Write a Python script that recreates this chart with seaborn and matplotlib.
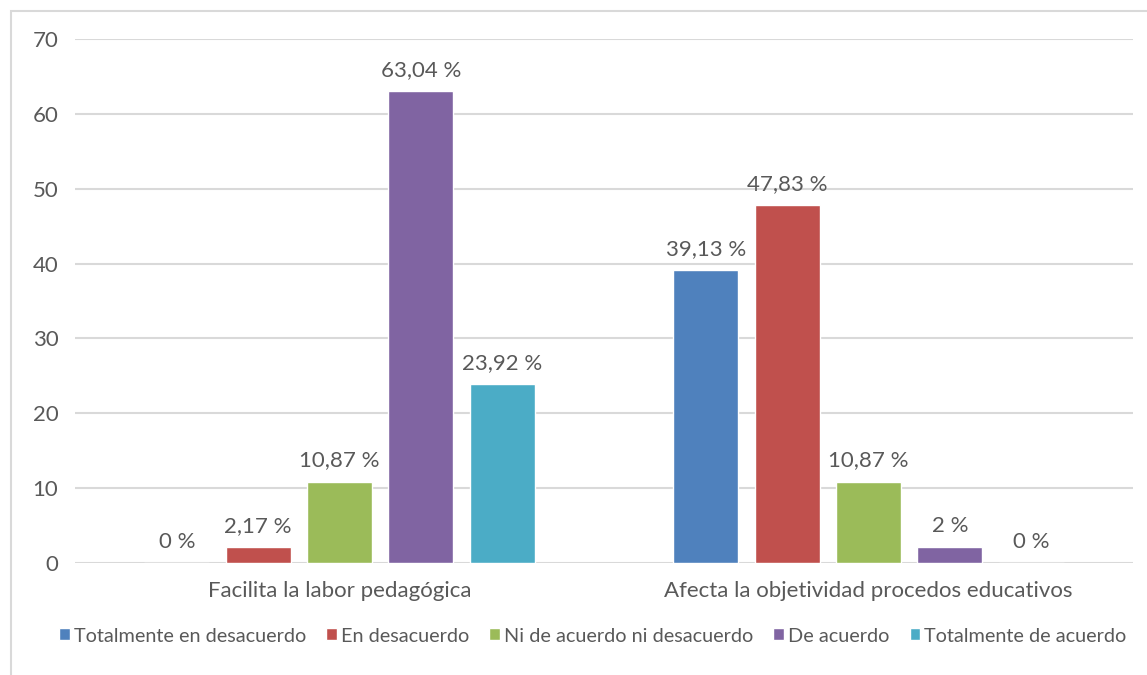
import matplotlib
matplotlib.use("Agg")
import matplotlib.pyplot as plt
import seaborn as sns
import pandas as pd
from matplotlib.patches import Rectangle

categories = ["Facilita la labor pedagógica", "Afecta la objetividad procedos educativos"]
series = ["Totalmente en desacuerdo", "En desacuerdo", "Ni de acuerdo ni desacuerdo",
          "De acuerdo", "Totalmente de acuerdo"]
values_facilita = [0, 2.17, 10.87, 63.04, 23.92]
values_afecta = [39.13, 47.83, 10.87, 2.17, 0]
labels_facilita = ["0 %", "2,17 %", "10,87 %", "63,04 %", "23,92 %"]
labels_afecta = ["39,13 %", "47,83 %", "10,87 %", "2 %", "0 %"]
colors = ["#4F81BD", "#C0504D", "#9BBB59", "#8064A2", "#4BACC6"]
yticks = [0, 10, 20, 30, 40, 50, 60, 70]

rows = []
for cat, vals, labs in [(categories[0], values_facilita, labels_facilita),
                        (categories[1], values_afecta, labels_afecta)]:
    for s, v, l in zip(series, vals, labs):
        rows.append({"cat": cat, "serie": s, "valor": v, "etiqueta": l})
df = pd.DataFrame(rows)

sns.set_theme(style="white")
plt.rcParams["font.family"] = ["Lato", "DejaVu Sans"]
text_color = "#595959"
grid_color = "#D9D9D9"

fig = plt.figure(figsize=(11.47, 6.75), dpi=100)
ax = fig.add_axes([75 / 1147, 1 - 563 / 675, (1133 - 75) / 1147, (563 - 39) / 675])

sns.barplot(data=df, x="cat", y="valor", hue="serie", order=categories,
            hue_order=series, palette=colors, width=0.768, gap=0.2,
            saturation=1, ax=ax, legend=True)

ax.set_xlim(-0.5, 1.5)
ax.set_ylim(0, 70)
ax.set_yticks(yticks)
ax.set_yticklabels([str(t) for t in yticks])
ax.yaxis.grid(True, color=grid_color, linewidth=1.5)
ax.set_axisbelow(True)
for sp in ax.spines.values():
    sp.set_visible(False)
ax.set_xlabel("")
ax.set_ylabel("")
ax.tick_params(axis="both", length=0, colors=text_color, labelsize=16)
ax.tick_params(axis="x", pad=13)
ax.tick_params(axis="y", pad=12)

lab_map = {(r.cat, r.serie): r.etiqueta for r in df.itertuples()}
for container, s in zip(ax.containers, series):
    for bar, cat in zip(container.patches, categories):
        h = bar.get_height()
        ax.annotate(lab_map[(cat, s)], (bar.get_x() + bar.get_width() / 2, h),
                    xytext=(0, 8), textcoords="offset points",
                    ha="center", va="bottom", fontsize=16, color=text_color)

handles, lbls = ax.get_legend_handles_labels()
ax.legend(handles, lbls, loc="center", bbox_to_anchor=(0.5 - 11 / 1058, -(636 - 563) / 524),
          ncol=5, frameon=False, fontsize=14.3, handlelength=0.55, handleheight=0.55,
          handletextpad=0.2, columnspacing=1.0, labelcolor=text_color)

fig.patches.append(Rectangle((11 / 1147, -0.1), 1.2, 1.1 - 11 / 675,
                             transform=fig.transFigure, fill=False,
                             edgecolor=grid_color, linewidth=1.5))

fig.savefig("out.png", dpi=100)
